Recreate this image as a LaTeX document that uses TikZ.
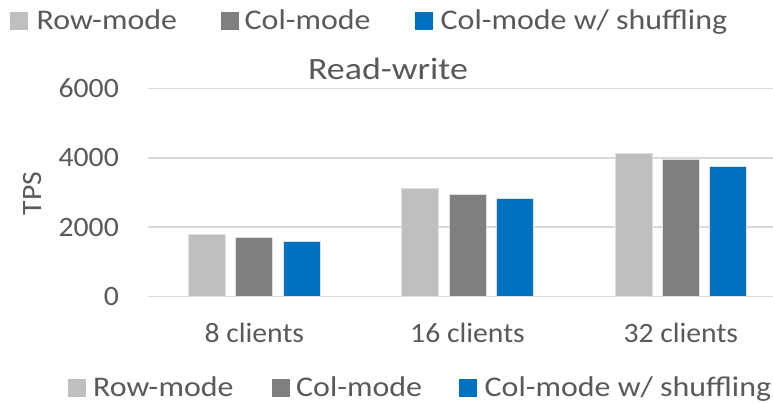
\documentclass[tikz,border=0pt]{standalone}
\usepackage{fontspec}
\setmainfont{Carlito}[FakeStretch=1.06]
\newfontfamily\titlefont{Carlito}[FakeStretch=1.16]
\newfontfamily\keyfont{Carlito}[FakeStretch=1.12]

\definecolor{rowgray}{HTML}{BFBFBF}
\definecolor{colgray}{HTML}{7F7F7F}
\definecolor{shufblue}{HTML}{0070C0}
\definecolor{txtgray}{HTML}{595959}
\definecolor{gridgray}{HTML}{D9D9D9}

\begin{document}
\begin{tikzpicture}[
    x=1pt, y=1pt,
    grid/.style={gridgray, line width=1.5pt},
    bar/.style={draw=white!88!black, line width=0.8pt},
    lbl/.style={text=txtgray, inner sep=0pt, font=\fontsize{28}{32}\selectfont},
    ttl/.style={lbl, font=\titlefont\fontsize{31}{34}\selectfont},
    leg/.style={lbl, anchor=base west, font=\keyfont\fontsize{28.5}{32}\selectfont},
    key/.style={minimum size=18pt, inner sep=0pt, anchor=south west}
]
\useasboundingbox (0,0) rectangle (773,403);

% Grille horizontale et graduations de l'axe TPS
\foreach \v/\name in {0/zero,2000/two,4000/four,6000/six} {
  \coordinate (g-\name) at (148,106.5+\v*0.03465);
  \draw[grid] (g-\name) -- ++(625,0);
  \node[lbl, anchor=east] (t-\name) at (119,106.5+\v*0.03465) {\v};
}

% Barres : Row-mode, Col-mode, Col-mode w/ shuffling
\foreach \g/\a/\b/\c/\txt [count=\i] in {254.3/1783/1704/1580/8 clients,
                                         467.5/3116/2933/2817/16 clients,
                                         680.8/4122/3957/3754/32 clients} {
  \draw[bar, fill=rowgray]  (\g-65.8,106.5) rectangle ++(37,\a*0.03465);
  \draw[bar, fill=colgray]  (\g-18.5,106.5) rectangle ++(37,\b*0.03465);
  \draw[bar, fill=shufblue] (\g+28.8,106.5) rectangle ++(37,\c*0.03465);
  \node[lbl, anchor=base] (cat-\i) at (\g,60) {\txt};
}

% Titre et axe
\node[ttl, anchor=base] (title) at (388,323) {Read-write};
\node[lbl, rotate=90] (tps) at (33,209.5) {TPS};

% Legende du haut
\node[key, fill=rowgray]  (k1) at (10,372.3) {};
\node[leg] (l1) at (36.5,373) {Row-mode};
\node[key, fill=colgray]  (k2) at (220.5,372.3) {};
\node[leg] (l2) at (244.5,373) {Col-mode};
\node[key, fill=shufblue] (k3) at (414.5,372.3) {};
\node[leg] (l3) at (440.5,373) {Col-mode w/ shuffling};

% Legende du bas
\node[key, fill=rowgray]  (m1) at (67.5,6) {};
\node[leg] (n1) at (93,6) {Row-mode};
\node[key, fill=colgray]  (m2) at (271.5,6) {};
\node[leg] (n2) at (296,6) {Col-mode};
\node[key, fill=shufblue] (m3) at (459,6) {};
\node[leg] (n3) at (484.5,6) {Col-mode w/ shuffling};

\end{tikzpicture}
\end{document}
